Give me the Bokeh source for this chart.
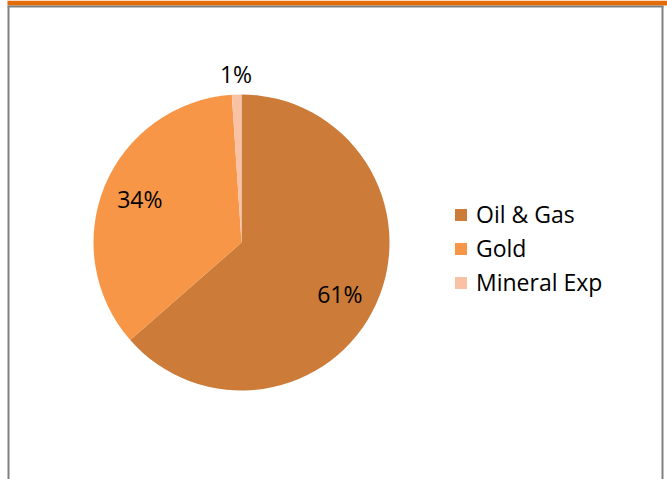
import numpy as np
from bokeh.plotting import figure
from bokeh.models import Range1d, ColumnDataSource, Legend, LegendItem
from bokeh.core.properties import value
from bokeh.embed import file_html
from bokeh.resources import INLINE

# ---- data ----
categories = ["Oil & Gas", "Gold", "Mineral Exp"]
values = [61, 34, 1]
labels = ["61%", "34%", "1%"]
colors = ["#CC7B38", "#F79646", "#FAC2A4"]

# ---- layout (pixels) ----
W, H = 667, 479
cx, cy = 241, H - 242
R = 148
label_r = np.array([108, 110, 167])
label_dy = np.array([-7, 1.5, 2])
FONT = "Open Sans"

vals = np.array(values, dtype=float)
frac = vals / vals.sum()
cum = np.concatenate([[0.0], np.cumsum(frac)])
start = np.pi / 2 - 2 * np.pi * cum[:-1]
end = np.pi / 2 - 2 * np.pi * cum[1:]
mid = (start + end) / 2

src = ColumnDataSource(dict(
    cat=categories, start=start, end=end, color=colors,
    x=[cx] * len(values), y=[cy] * len(values),
))
lsrc = ColumnDataSource(dict(
    x=cx + label_r * np.cos(mid),
    y=cy + label_r * np.sin(mid) + label_dy,
    text=labels,
))

p = figure(width=W, height=H, output_backend="svg", toolbar_location=None,
           x_range=Range1d(0, W), y_range=Range1d(0, H), min_border=0,
           tools="")
p.axis.visible = False
p.grid.visible = False
p.outline_line_color = None
p.background_fill_color = "white"
p.border_fill_color = "white"

# frame decoration
p.quad(left=7, right=W, bottom=H - 5, top=H, fill_color="#E36C09", line_color=None)
p.line(x=[8, 8], y=[-10, H - 6], line_color="#808080", line_width=2)
p.line(x=[662, 662], y=[-10, H - 6], line_color="#808080", line_width=2)
p.line(x=[7, 663], y=[H - 6, H - 6], line_color="#808080", line_width=2)

w = p.wedge(x="x", y="y", radius=R, radius_units="screen",
            start_angle="start", end_angle="end", direction="clock",
            fill_color="color", line_color=None, source=src)

p.text(x="x", y="y", text="text", source=lsrc, text_align="center",
       text_baseline="middle", text_font=value(FONT), text_font_size="23px",
       text_color="#000000")

legend = Legend(items=[LegendItem(label=c, renderers=[w], index=i)
                       for i, c in enumerate(categories)],
                location=(453, H - 298), orientation="vertical",
                glyph_width=15, glyph_height=15, label_standoff=8,
                label_text_font=FONT, label_text_font_size="23px",
                label_text_color="#000000", spacing=2, padding=0, margin=0,
                border_line_color=None, background_fill_alpha=0)
p.add_layout(legend, "center")

open("out.html", "w").write(file_html(p, INLINE))
